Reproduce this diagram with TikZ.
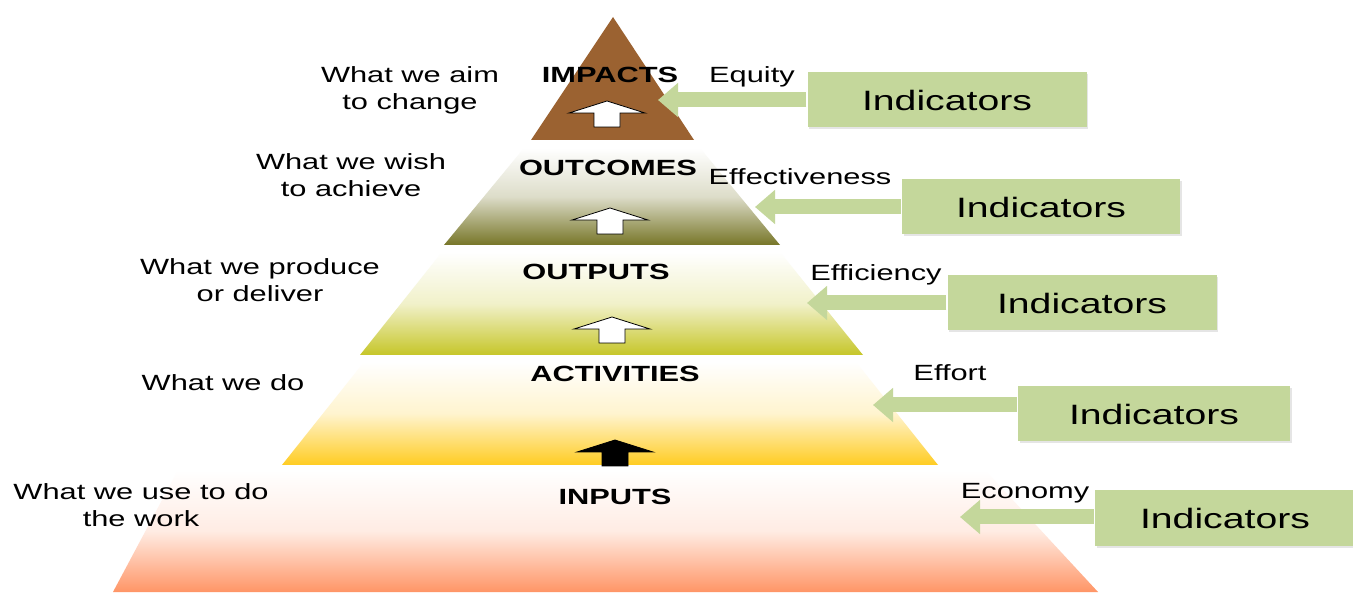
\documentclass[tikz,border=0pt]{standalone}
\usepackage{fontspec}
\setmainfont[FakeStretch=1.4]{Liberation Sans}
\usetikzlibrary{arrows.meta,shadows}
\definecolor{colImp}{HTML}{9B6231}
\definecolor{colOutc}{HTML}{777628}
\definecolor{colOutp}{HTML}{C6C629}
\definecolor{colAct}{HTML}{FFCC22}
\definecolor{colInp}{HTML}{FF9566}
\definecolor{colInd}{HTML}{C4D79B}
\begin{document}
\begin{tikzpicture}[x=1pt,y=-1pt,
  lbl/.style={font=\fontsize{22}{27}\selectfont, align=center, inner sep=0pt},
  lvl/.style={font=\fontsize{22}{27}\selectfont\bfseries, inner sep=0pt, anchor=base},
  crit/.style={font=\fontsize{22}{27}\selectfont, inner sep=0pt, anchor=base},
  indbox/.style={fill=colInd, minimum height=55pt, inner sep=0pt,
    font=\fontsize{28}{34}\selectfont,
    drop shadow={shadow xshift=1.5pt, shadow yshift=-2pt, opacity=0.2}},
  indfront/.style={fill=colInd, minimum height=55pt, inner sep=0pt,
    font=\fontsize{28}{34}\selectfont},
  garrow/.style={draw=colInd, line width=15pt, -{Triangle[width=33pt,length=20pt]}},
  uparr/.pic={\path[pic actions] (0,0) -- (38,12) -- (13,12) -- (13,26) -- (-13,26) -- (-13,12) -- (-38,12) -- cycle;}
]
\useasboundingbox (0,0) rectangle (1353,593);
\fill[white] (0,0) rectangle (1353,593);

% pyramid bands
\shade[top color=white, bottom color=colInp, middle color=colInp!18]
  (178,470) -- (985,470) -- (1098,592) -- (113,592) -- cycle;
\shade[top color=white, bottom color=colAct, middle color=colAct!22]
  (364,362) -- (856,362) -- (938,465) -- (282,465) -- cycle;
\shade[top color=white, bottom color=colOutp, middle color=colOutp!25]
  (442,252) -- (780,252) -- (863,355) -- (360,355) -- cycle;
\shade[top color=white, bottom color=colOutc, middle color=colOutc!25]
  (524,148) -- (700,148) -- (780,245) -- (444,245) -- cycle;
\fill[colImp] (613,17) -- (694,140) -- (531,140) -- cycle;

% up arrows
\pic[draw=black, fill=white, line width=0.8pt] at (607,101) {uparr};
\pic[draw=black, fill=white, line width=0.8pt] at (610,208) {uparr};
\pic[draw=black, fill=white, line width=0.8pt] at (612,317) {uparr};
\pic[draw=black, fill=black, line width=0.8pt] at (615,440) {uparr};

% level labels
\node[lvl] (impacts) at (610,83) {IMPACTS};
\node[lvl] (outcomes) at (608,176) {OUTCOMES};
\node[lvl] (outputs) at (596,280) {OUTPUTS};
\node[lvl] (activities) at (615,382) {ACTIVITIES};
\node[lvl] (inputs) at (615,504) {INPUTS};

% left descriptions
\node[lbl] (d1) at (410,90) {What we aim\\to change};
\node[lbl] (d2) at (351,175) {What we wish\\to achieve};
\node[lbl] (d3) at (260,280) {What we produce\\or deliver};
\node[lbl, anchor=base] (d4) at (223,391) {What we do};
\node[lbl] (d5) at (141,505) {What we use to do\\the work};

% criteria
\node[crit] (c1) at (752,83) {Equity};
\node[crit] (c2) at (800,185) {Effectiveness};
\node[crit] (c3) at (876,281) {Efficiency};
\node[crit] (c4) at (950,381) {Effort};
\node[crit] (c5) at (1025,499) {Economy};

% arrow tips
\coordinate (t1) at (658,100);
\coordinate (t2) at (755,207);
\coordinate (t3) at (807,303);
\coordinate (t4) at (873,405);
\coordinate (t5) at (960,517);

% indicator boxes (shadowed backs)
\path (947,100) node[indbox, minimum width=279pt] (i1) {\phantom{Indicators}};
\path (1041,207) node[indbox, minimum width=278pt] (i2) {\phantom{Indicators}};
\path (1082,303) node[indbox, minimum width=269pt] (i3) {\phantom{Indicators}};
\path (1154,414) node[indbox, minimum width=272pt] (i4) {\phantom{Indicators}};
\path (1225,518) node[indbox, minimum width=260pt] (i5) {\phantom{Indicators}};

% green arrows
\draw[garrow] ([xshift=-1pt]i1.west |- t1) -- (t1);
\draw[garrow] ([xshift=-1pt]i2.west |- t2) -- (t2);
\draw[garrow] ([xshift=-1pt]i3.west |- t3) -- (t3);
\draw[garrow] ([xshift=-1pt]i4.west |- t4) -- (t4);
\draw[garrow] ([xshift=-1pt]i5.west |- t5) -- (t5);

% box fronts with text
\node[indfront, minimum width=279pt] (f1) at (i1) {Indicators};
\node[indfront, minimum width=278pt] (f2) at (i2) {Indicators};
\node[indfront, minimum width=269pt] (f3) at (i3) {Indicators};
\node[indfront, minimum width=272pt] (f4) at (i4) {Indicators};
\node[indfront, minimum width=260pt] (f5) at (i5) {Indicators};
\end{tikzpicture}
\end{document}
